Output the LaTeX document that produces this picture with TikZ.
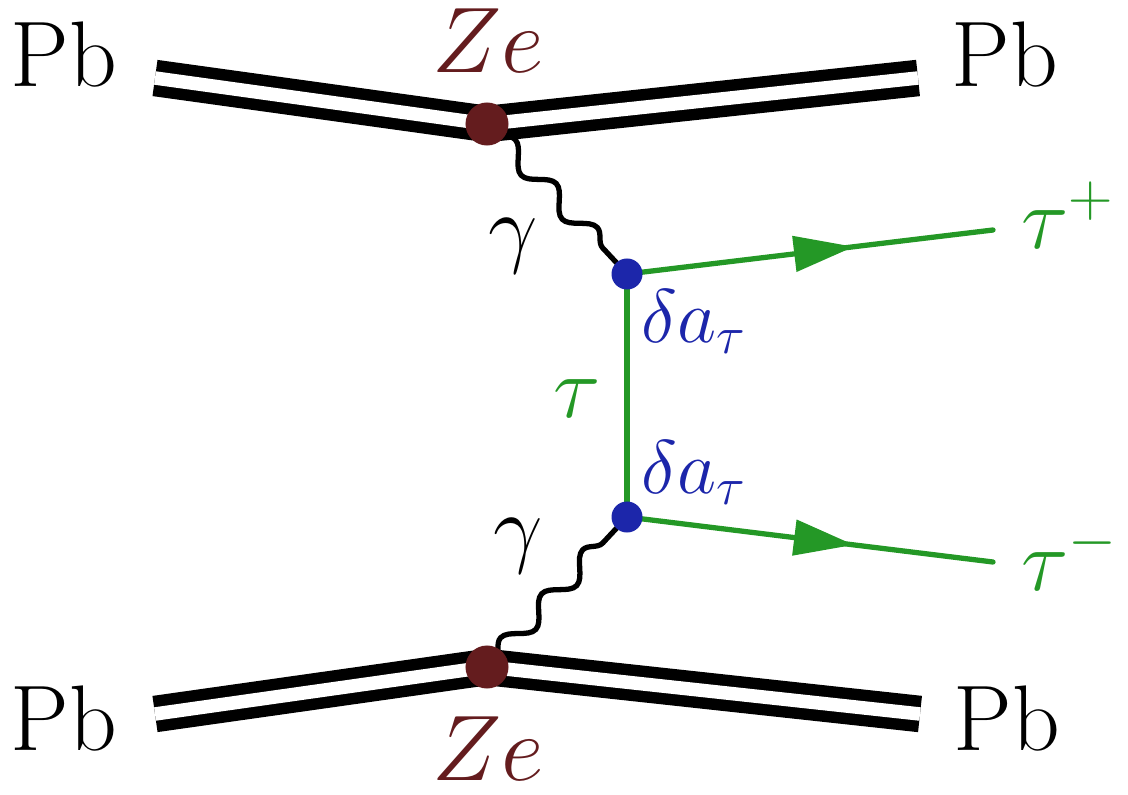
\RequirePackage{fix-cm}
\documentclass[tikz,border=0pt]{standalone}
\usetikzlibrary{arrows.meta,decorations.pathmorphing,decorations.markings}
\definecolor{zecol}{RGB}{100,28,30}
\definecolor{taucol}{RGB}{36,152,38}
\definecolor{dacol}{RGB}{28,38,170}
\begin{document}
\begin{tikzpicture}[x=0.01cm,y=-0.01cm,
    every node/.style={inner sep=0pt,font=\fontsize{25}{30}\selectfont},
    big/.style={font=\fontsize{26.5}{32}\selectfont},
    small/.style={font=\fontsize{21.6}{26}\selectfont},
    ion/.style={line width=0.115cm,double=white,double distance=0.135cm},
    photon/.style={line width=1.5pt,decorate,decoration={snake,segment length=0.6cm,amplitude=0.1cm,pre length=0.12cm,post length=0.13cm}},
    tauline/.style={taucol,line width=1.5pt,line cap=round},
    fermion/.style={tauline,postaction={decorate},decoration={markings,mark=at position 0.62 with {\arrow{Triangle[length=0.6cm,width=0.35cm]}}}},
    zedot/.style={circle,fill=zecol,minimum size=0.43cm},
    dadot/.style={circle,fill=dacol,minimum size=0.31cm}]
    \useasboundingbox (0,0) rectangle (1128,794);

    \coordinate (vT) at (487,124);
    \coordinate (vB) at (487,667);
    \coordinate (vU) at (627,274);
    \coordinate (vD) at (627,517);
    \coordinate (inTL) at (155,78);
    \coordinate (outTR) at (918,78);
    \coordinate (inBL) at (155,714);
    \coordinate (outBR) at (920,714);
    \coordinate (tauP) at (993,230);
    \coordinate (tauM) at (993,562);

    \draw[ion] (inTL) -- (vT) -- (outTR);
    \draw[ion] (inBL) -- (vB) -- (outBR);

    \draw[photon] (vT) -- (vU);
    \draw[photon] (vB) -- (vD);

    \draw[tauline] (vU) -- (vD);
    \draw[fermion] (vU) -- (tauP);
    \draw[fermion] (vD) -- (tauM);

    \node[zedot] (dotT) at (vT) {};
    \node[zedot] (dotB) at (vB) {};
    \node[dadot] (dotU) at (vU) {};
    \node[dadot] (dotD) at (vD) {};

    \node[big,anchor=base west] (pbTL) at (10,87) {Pb};
    \node[big,anchor=base west] (pbTR) at (951,87) {Pb};
    \node[big,anchor=base west] (pbBL) at (10,750) {Pb};
    \node[big,anchor=base west] (pbBR) at (953,750) {Pb};
    \node[big,anchor=base,zecol] (zeT) at (488,73) {$Ze$};
    \node[big,anchor=base,zecol] (zeB) at (488,780) {$Ze$};

    \node (gamT) at (513,246) {$\gamma$};
    \node (gamB) at (518,546) {$\gamma$};
    \node[anchor=base west,taucol] (tauLab) at (553,417) {$\tau$};
    \node[small,anchor=base west,dacol] (daU) at (641,342) {$\delta a_\tau$};
    \node[small,anchor=base west,dacol] (daD) at (641,493) {$\delta a_\tau$};
    \node[anchor=base west,taucol] (tauPlab) at (1021,248) {$\tau^+$};
    \node[anchor=base west,taucol] (tauMlab) at (1021,590) {$\tau^-$};
  \end{tikzpicture}
\end{document}
